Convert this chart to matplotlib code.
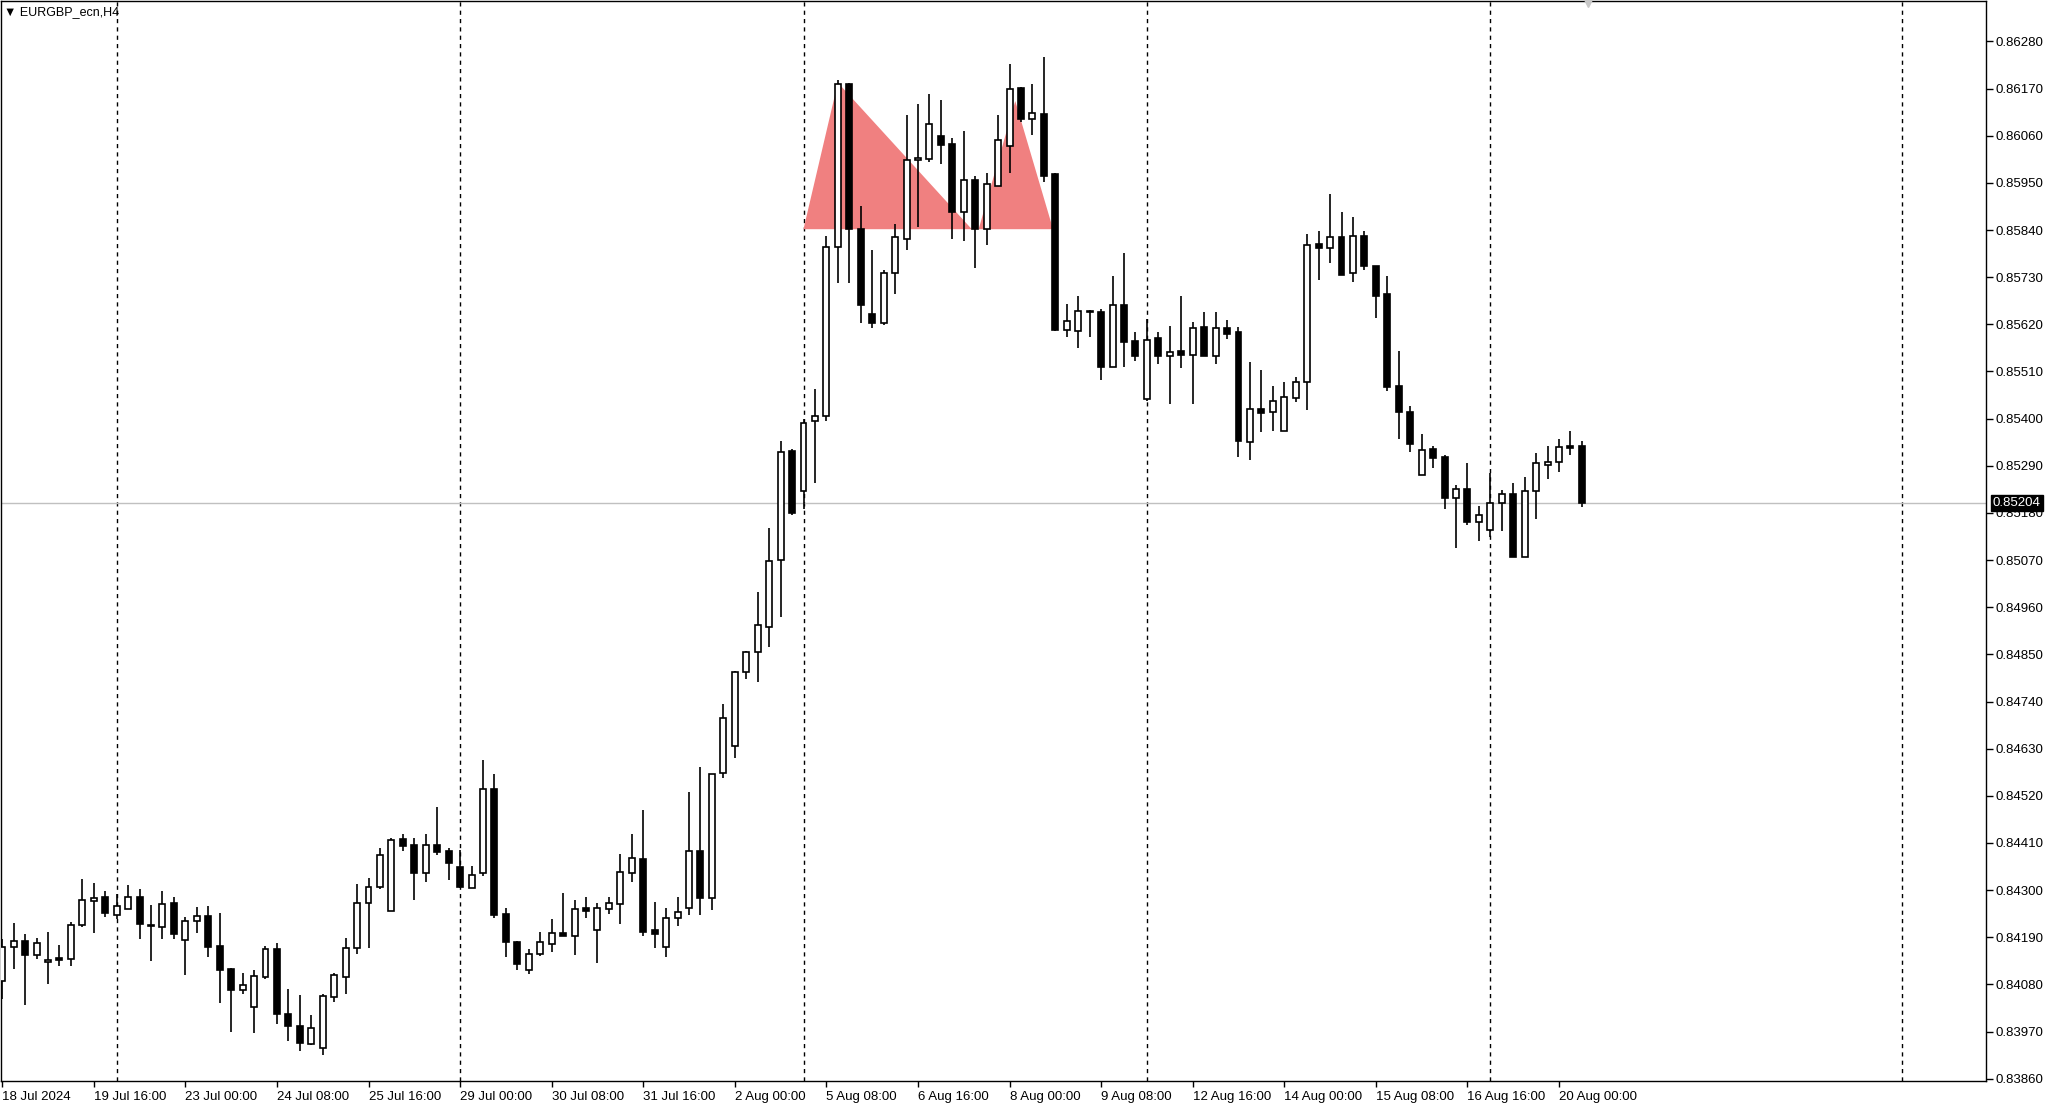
import matplotlib
matplotlib.use("Agg")
import matplotlib.pyplot as plt
import matplotlib.transforms as mtransforms
import numpy as np

plt.rcParams['font.family'] = ['Liberation Sans', 'DejaVu Sans']

# EURGBP H4 candles, 18 Jul 2024 08:00 .. 20 Aug 2024 08:00
opens = [0.84089, 0.84168, 0.84182, 0.84148, 0.84132, 0.84141, 0.84140, 0.84218, 0.84274, 0.84283,
         0.84241, 0.84256, 0.84283, 0.84219, 0.84215, 0.84270, 0.84184, 0.84228, 0.84239, 0.84169,
         0.84115, 0.84068, 0.84027, 0.84097, 0.84162, 0.84012, 0.83984, 0.83940, 0.83932, 0.84051,
         0.84098, 0.84165, 0.84269, 0.84308, 0.84252, 0.84419, 0.84406, 0.84341, 0.84406, 0.84392,
         0.84353, 0.84304, 0.84339, 0.84537, 0.84245, 0.84179, 0.84114, 0.84151, 0.84174, 0.84201,
         0.84193, 0.84259, 0.84207, 0.84257, 0.84267, 0.84341, 0.84372, 0.84207, 0.84168, 0.84235,
         0.84258, 0.84391, 0.84281, 0.84574, 0.84636, 0.84810, 0.84855, 0.84914, 0.85070, 0.85324,
         0.85231, 0.85395, 0.85405, 0.85800, 0.86180, 0.85842, 0.85644, 0.85622, 0.85740, 0.85819,
         0.86003, 0.86005, 0.86060, 0.86040, 0.85881, 0.85956, 0.85842, 0.85943, 0.86037, 0.86171,
         0.86099, 0.86110, 0.85970, 0.85607, 0.85604, 0.85648, 0.85648, 0.85521, 0.85664, 0.85580,
         0.85446, 0.85587, 0.85545, 0.85557, 0.85549, 0.85613, 0.85545, 0.85611, 0.85601, 0.85345,
         0.85423, 0.85416, 0.85372, 0.85448, 0.85485, 0.85807, 0.85799, 0.85824, 0.85739, 0.85827,
         0.85757, 0.85691, 0.85477, 0.85416, 0.85269, 0.85329, 0.85310, 0.85215, 0.85236, 0.85158,
         0.85141, 0.85202, 0.85223, 0.85077, 0.85231, 0.85292, 0.85298, 0.85337, 0.85337]
highs = [0.84186, 0.84223, 0.84197, 0.84189, 0.84202, 0.84172, 0.84225, 0.84326, 0.84316, 0.84299,
         0.84291, 0.84313, 0.84303, 0.84266, 0.84299, 0.84284, 0.84237, 0.84260, 0.84263, 0.84246,
         0.84118, 0.84106, 0.84113, 0.84169, 0.84176, 0.84070, 0.84056, 0.84008, 0.84058, 0.84106,
         0.84189, 0.84315, 0.84329, 0.84399, 0.84422, 0.84432, 0.84422, 0.84430, 0.84494, 0.84399,
         0.84393, 0.84356, 0.84603, 0.84570, 0.84259, 0.84182, 0.84162, 0.84203, 0.84232, 0.84293,
         0.84277, 0.84283, 0.84269, 0.84283, 0.84384, 0.84430, 0.84486, 0.84273, 0.84259, 0.84283,
         0.84528, 0.84588, 0.84570, 0.84734, 0.84812, 0.84859, 0.84995, 0.85145, 0.85347, 0.85328,
         0.85400, 0.85470, 0.85827, 0.86190, 0.86184, 0.85897, 0.85793, 0.85747, 0.85854, 0.86108,
         0.86134, 0.86158, 0.86143, 0.86054, 0.86071, 0.85967, 0.85974, 0.86108, 0.86227, 0.86174,
         0.86180, 0.86244, 0.85974, 0.85667, 0.85685, 0.85653, 0.85656, 0.85733, 0.85787, 0.85601,
         0.85632, 0.85601, 0.85615, 0.85687, 0.85625, 0.85648, 0.85648, 0.85631, 0.85613, 0.85531,
         0.85514, 0.85477, 0.85486, 0.85496, 0.85831, 0.85838, 0.85924, 0.85883, 0.85871, 0.85838,
         0.85757, 0.85733, 0.85557, 0.85430, 0.85364, 0.85337, 0.85316, 0.85244, 0.85297, 0.85197,
         0.85273, 0.85234, 0.85250, 0.85263, 0.85320, 0.85335, 0.85353, 0.85370, 0.85347]
lows = [0.84047, 0.84117, 0.84031, 0.84140, 0.84080, 0.84124, 0.84124, 0.84214, 0.84200, 0.84237,
        0.84233, 0.84255, 0.84186, 0.84134, 0.84186, 0.84186, 0.84103, 0.84200, 0.84144, 0.84037,
        0.83970, 0.84057, 0.83967, 0.84092, 0.83987, 0.83947, 0.83924, 0.83939, 0.83916, 0.84040,
        0.84057, 0.84151, 0.84165, 0.84302, 0.84252, 0.84392, 0.84278, 0.84320, 0.84381, 0.84324,
        0.84306, 0.84304, 0.84332, 0.84236, 0.84143, 0.84113, 0.84104, 0.84147, 0.84156, 0.84193,
        0.84149, 0.84234, 0.84130, 0.84244, 0.84221, 0.84320, 0.84193, 0.84164, 0.84143, 0.84217,
        0.84243, 0.84243, 0.84254, 0.84562, 0.84608, 0.84792, 0.84786, 0.84867, 0.84938, 0.85176,
        0.85190, 0.85250, 0.85395, 0.85716, 0.85716, 0.85622, 0.85611, 0.85619, 0.85691, 0.85794,
        0.85848, 0.85998, 0.85995, 0.85819, 0.85815, 0.85751, 0.85805, 0.85942, 0.85974, 0.86091,
        0.86062, 0.85953, 0.85605, 0.85591, 0.85565, 0.85591, 0.85489, 0.85520, 0.85521, 0.85535,
        0.85441, 0.85528, 0.85434, 0.85518, 0.85434, 0.85545, 0.85528, 0.85586, 0.85310, 0.85304,
        0.85368, 0.85371, 0.85371, 0.85438, 0.85420, 0.85724, 0.85762, 0.85735, 0.85718, 0.85747,
        0.85635, 0.85464, 0.85353, 0.85322, 0.85269, 0.85284, 0.85188, 0.85098, 0.85152, 0.85114,
        0.85124, 0.85137, 0.85077, 0.85077, 0.85165, 0.85258, 0.85275, 0.85315, 0.85193]
closes = [0.84167, 0.84181, 0.84148, 0.84176, 0.84138, 0.84138, 0.84219, 0.84276, 0.84282, 0.84247,
          0.84263, 0.84283, 0.84221, 0.84216, 0.84268, 0.84198, 0.84229, 0.84239, 0.84167, 0.84114,
          0.84068, 0.84078, 0.84099, 0.84162, 0.84010, 0.83984, 0.83943, 0.83979, 0.84052, 0.84101,
          0.84165, 0.84269, 0.84308, 0.84382, 0.84418, 0.84403, 0.84341, 0.84406, 0.84390, 0.84364,
          0.84308, 0.84335, 0.84535, 0.84242, 0.84180, 0.84127, 0.84152, 0.84178, 0.84201, 0.84193,
          0.84256, 0.84252, 0.84258, 0.84269, 0.84343, 0.84376, 0.84203, 0.84197, 0.84236, 0.84249,
          0.84391, 0.84281, 0.84570, 0.84702, 0.84810, 0.84855, 0.84918, 0.85067, 0.85322, 0.85179,
          0.85389, 0.85405, 0.85800, 0.86180, 0.85842, 0.85664, 0.85622, 0.85740, 0.85823, 0.86003,
          0.86009, 0.86087, 0.86039, 0.85881, 0.85956, 0.85842, 0.85947, 0.86050, 0.86170, 0.86099,
          0.86113, 0.85965, 0.85607, 0.85627, 0.85650, 0.85652, 0.85521, 0.85664, 0.85578, 0.85547,
          0.85584, 0.85545, 0.85556, 0.85549, 0.85611, 0.85545, 0.85611, 0.85597, 0.85347, 0.85423,
          0.85413, 0.85440, 0.85450, 0.85486, 0.85806, 0.85799, 0.85823, 0.85735, 0.85827, 0.85755,
          0.85687, 0.85473, 0.85415, 0.85341, 0.85326, 0.85308, 0.85214, 0.85235, 0.85158, 0.85176,
          0.85203, 0.85223, 0.85077, 0.85232, 0.85296, 0.85298, 0.85333, 0.85332, 0.85204]

time_labels = ["18 Jul 2024", "19 Jul 16:00", "23 Jul 00:00", "24 Jul 08:00", "25 Jul 16:00",
               "29 Jul 00:00", "30 Jul 08:00", "31 Jul 16:00", "2 Aug 00:00", "5 Aug 08:00",
               "6 Aug 16:00", "8 Aug 00:00", "9 Aug 08:00", "12 Aug 16:00", "14 Aug 00:00",
               "15 Aug 08:00", "16 Aug 16:00", "20 Aug 00:00"]
label_bars = [0, 8, 16, 24, 32, 40, 48, 56, 64, 72, 80, 88, 96, 104, 112, 120, 128, 136]
week_separators = [10, 40, 70, 100, 130, 166]
price_ticks = [0.86280, 0.86170, 0.86060, 0.85950, 0.85840, 0.85730, 0.85620, 0.85510,
               0.85400, 0.85290, 0.85180, 0.85070, 0.84960, 0.84850, 0.84740, 0.84630,
               0.84520, 0.84410, 0.84300, 0.84190, 0.84080, 0.83970, 0.83860]
last_price = 0.85204

# double-top pattern (two triangles): bar index, price
tri1_bars = [70.0, 73.0, 84.7]
tri1_prices = [0.85842, 0.86184, 0.85842]
tri2_bars = [85.3, 88.5, 91.8]
tri2_prices = [0.85842, 0.86141, 0.85842]

W, H = 2048, 1116
fig = plt.figure(figsize=(W / 100, H / 100), dpi=100)
ax = fig.add_axes([0.5 / W, 1 - 1081 / H, 1985.5 / W, 1080 / H])

n = len(opens)
idx = np.arange(n)
o = np.array(opens); c = np.array(closes)
hi = np.array(highs); lo = np.array(lows)

ax.fill(tri1_bars, tri1_prices, color="#F08080", lw=0, zorder=1)
ax.fill(tri2_bars, tri2_prices, color="#F08080", lw=0, zorder=1)

for s in week_separators:
    ax.axvline(s, color="black", lw=1, ls=(0, (3, 3)), zorder=0.5)
ax.axhline(last_price, color="#c0c0c0", lw=1, zorder=0.6)

ax.vlines(idx, lo, hi, color="black", lw=1.2, zorder=2)
bottoms = np.minimum(o, c)
heights = np.maximum(np.abs(c - o), 0.00002)
colors = np.where(c >= o, "white", "black")
ax.bar(idx, heights, bottom=bottoms, width=0.52, color=colors, edgecolor="black",
       linewidth=1.2, zorder=3)

ax.set_xlim(-0.148, 173.3)
ax.set_ylim(0.838546, 0.863744)

ax.yaxis.tick_right()
ax.set_yticks(price_ticks)
ax.set_yticklabels([f"{p:.5f}" for p in price_ticks], fontsize=9.5)
ax.tick_params(axis="y", direction="out", length=5, width=1, pad=2)
ax.set_xticks(label_bars)
ax.set_xticklabels(time_labels, fontsize=9.5, ha="left")
ax.tick_params(axis="x", direction="out", length=4, width=1, pad=3)
for sp in ax.spines.values():
    sp.set_linewidth(1)

# last price tag on the axis
trans = mtransforms.blended_transform_factory(ax.transAxes, ax.transData)
ax.text(1.0035, last_price, f"{last_price:.5f}", transform=trans, fontsize=9.5,
        color="white", va="center", ha="left",
        bbox=dict(boxstyle="square,pad=0.15", fc="black", ec="black"))

ax.text(0.002, 0.995, "\u25bc EURGBP_ecn,H4", transform=ax.transAxes, fontsize=9,
        va="top", ha="left", family=["Liberation Sans", "DejaVu Sans"])
ax.plot([138.5], [0.863744], marker="v", color="#c8c8c8", ms=8, clip_on=False, zorder=5)

fig.savefig("out.png", dpi=100)
